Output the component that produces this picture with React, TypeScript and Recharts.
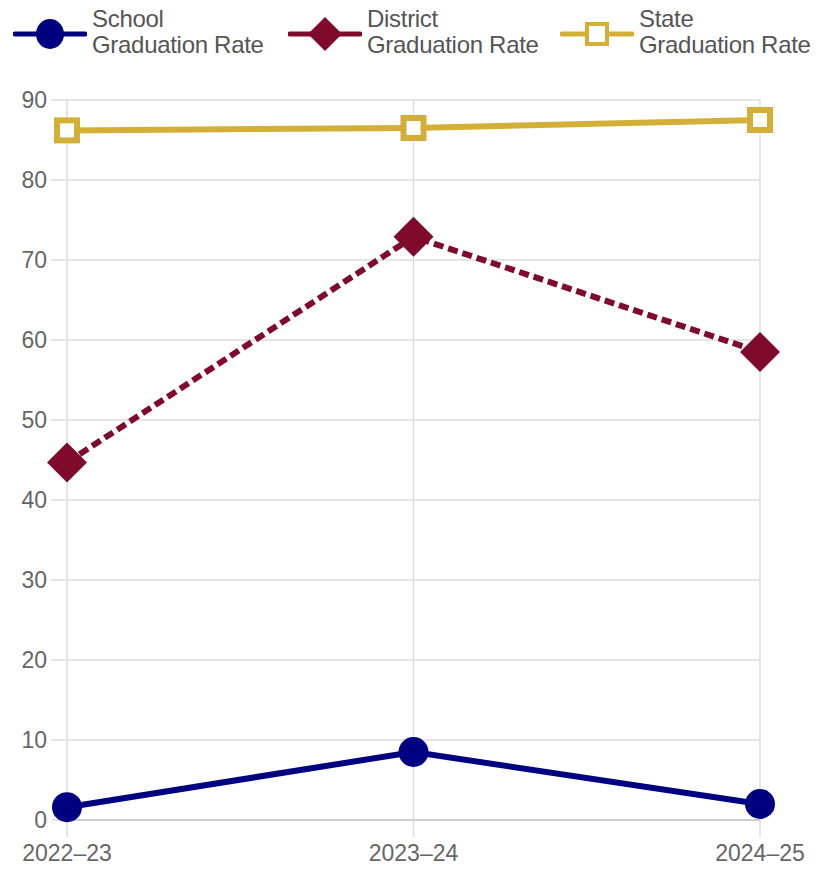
import { LineChart, Line, XAxis, YAxis, CartesianGrid } from "recharts";

const years = ["2022–23", "2023–24", "2024–25"];
const schoolRate = [1.6, 8.5, 2.0];
const districtRate = [44.7, 72.9, 58.5];
const stateRate = [86.2, 86.5, 87.5];
const yTicks = [0, 10, 20, 30, 40, 50, 60, 70, 80, 90];

const NAVY = "#000080";
const MAROON = "#800a2b";
const GOLD = "#d4af37";
const FONT = "'Liberation Sans', Arial, sans-serif";

const data = years.map((year, i) => ({
  year,
  school: schoolRate[i],
  district: districtRate[i],
  state: stateRate[i],
}));

const CircleDot = (props: any) => {
  const { cx, cy, index } = props;
  return <circle key={`c${index}`} cx={cx} cy={cy} r={15} fill={NAVY} />;
};

const DiamondDot = (props: any) => {
  const { cx, cy, index } = props;
  const s = 20;
  return (
    <polygon
      key={`d${index}`}
      points={`${cx},${cy - s} ${cx + s},${cy} ${cx},${cy + s} ${cx - s},${cy}`}
      fill={MAROON}
    />
  );
};

const SquareDot = (props: any) => {
  const { cx, cy, index } = props;
  return (
    <rect key={`s${index}`} x={cx - 10} y={cy - 10} width={20} height={20} fill="#fff" stroke={GOLD} strokeWidth={6} />
  );
};

const legendItems = [
  { label: "School", color: NAVY, shape: "circle", left: 13 },
  { label: "District", color: MAROON, shape: "diamond", left: 288 },
  { label: "State", color: GOLD, shape: "square", left: 560 },
];

function LegendIcon({ color, shape }: { color: string; shape: string }) {
  return (
    <svg width={74} height={40} style={{ display: "block" }}>
      <line x1={2} y1={20} x2={72} y2={20} stroke={color} strokeWidth={5} strokeLinecap="round" />
      {shape === "circle" && <ellipse cx={37} cy={20} rx={14} ry={15} fill={color} />}
      {shape === "diamond" && <polygon points="37,3 54,20 37,37 20,20" fill={color} />}
      {shape === "square" && <rect x={27} y={10} width={20} height={20} fill="#fff" stroke={color} strokeWidth={4} />}
    </svg>
  );
}

export default function App() {
  return (
    <div style={{ position: "absolute", left: 0, top: 0, width: 821, height: 871, background: "#fff", fontFamily: FONT }}>
      {legendItems.map((item) => (
        <div key={item.label} style={{ position: "absolute", left: item.left, top: 14, display: "flex", alignItems: "flex-start" }}>
          <LegendIcon color={item.color} shape={item.shape} />
          <div style={{ fontSize: 24, lineHeight: "26px", color: "#555", marginLeft: 5, marginTop: -8, letterSpacing: -0.3 }}>
            {item.label}
            <br />
            Graduation Rate
          </div>
        </div>
      ))}
      <LineChart width={821} height={871} data={data} margin={{ top: 100, right: 61, bottom: 0, left: 0 }}>
        <CartesianGrid stroke="#dddddd" strokeWidth={1.5} />
        <XAxis
          dataKey="year"
          height={51}
          padding={{ left: 0, right: 0 }}
          axisLine={{ stroke: "#cccccc", strokeWidth: 2 }}
          tickLine={{ stroke: "#dddddd", strokeWidth: 1.5 }}
          tickSize={17}
          tickMargin={8}
          tick={{ fill: "#666", fontSize: 23, fontFamily: FONT }}
        />
        <YAxis
          domain={[0, 90]}
          ticks={yTicks}
          width={67}
          axisLine={false}
          tickLine={{ stroke: "#dddddd", strokeWidth: 1.5 }}
          tickSize={16}
          tickMargin={4}
          tick={{ fill: "#666", fontSize: 23, fontFamily: FONT }}
        />
        <Line dataKey="state" stroke={GOLD} strokeWidth={6} dot={SquareDot} activeDot={false} isAnimationActive={false} />
        <Line
          dataKey="district"
          stroke={MAROON}
          strokeWidth={6}
          strokeDasharray="10 5"
          dot={DiamondDot}
          activeDot={false}
          isAnimationActive={false}
        />
        <Line dataKey="school" stroke={NAVY} strokeWidth={6} dot={CircleDot} activeDot={false} isAnimationActive={false} />
      </LineChart>
    </div>
  );
}
